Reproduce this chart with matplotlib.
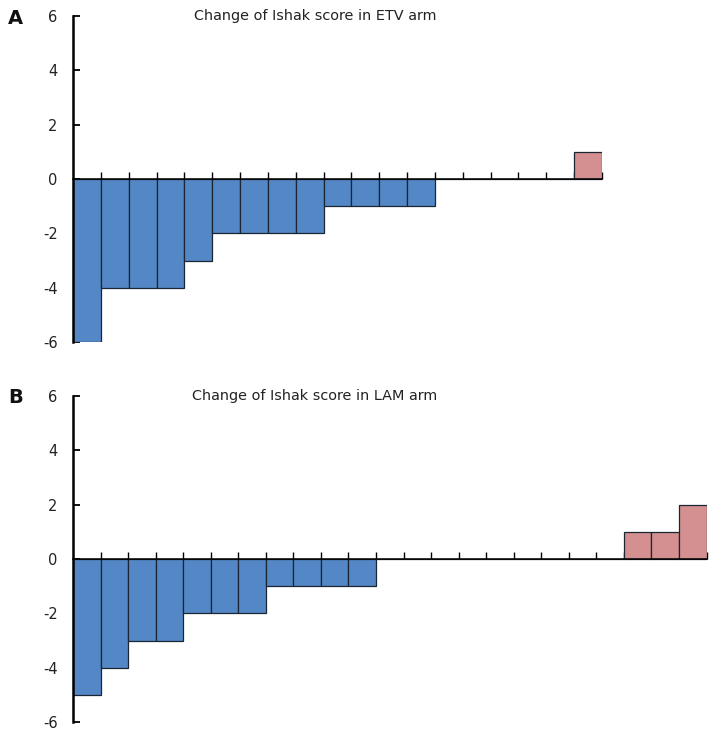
import matplotlib
matplotlib.use("Agg")
import matplotlib.pyplot as plt

# Data
etv_values = [-6, -4, -4, -4, -3, -2, -2, -2, -2, -1, -1, -1, -1, 0, 0, 0, 0, 0, 1]
lam_values = [-5, -4, -3, -3, -2, -2, -2, -1, -1, -1, -1, 0, 0, 0, 0, 0, 0, 0, 0, 0, 1, 1, 2]
titles = ["Change of Ishak score in ETV arm", "Change of Ishak score in LAM arm"]
panel_labels = ["A", "B"]
yticks = [-6, -4, -2, 0, 2, 4, 6]

W, H = 716, 738
fig = plt.figure(figsize=(W / 100, H / 100), dpi=100)

BLUE = "#5487C6"
PINK = "#D49090"
EDGE = "#1c2533"

# axes rectangles in pixel coordinates: left, right, top, bottom
rects = [(73, 602, 16, 342), (73, 706.5, 395.7, 722.3)]
datasets = [etv_values, lam_values]

for i, (vals, (l, r, t, b)) in enumerate(zip(datasets, rects)):
    ax = fig.add_axes([l / W, 1 - b / H, (r - l) / W, (b - t) / H])
    n = len(vals)
    xs = list(range(n))
    colors = [PINK if v > 0 else BLUE for v in vals]
    ax.bar(xs, vals, width=1.0, align="edge", color=colors,
           edgecolor=EDGE, linewidth=0.9, zorder=2)
    ax.set_xlim(0, n)
    ax.set_ylim(-6, 6)
    ax.set_yticks(yticks)
    ax.set_yticklabels([str(v) for v in yticks], fontsize=10.5, color="#222222")
    ax.set_xticks(range(1, n + 1))
    ax.set_xticklabels([])
    for s in ["top", "right"]:
        ax.spines[s].set_visible(False)
    ax.spines["bottom"].set_position(("data", 0))
    ax.spines["bottom"].set_linewidth(1.1)
    ax.spines["bottom"].set_zorder(3)
    ax.spines["left"].set_linewidth(1.8)
    ax.spines["left"].set_zorder(4)
    ax.tick_params(axis="x", direction="in", length=5, width=1.0, color="black")
    ax.tick_params(axis="y", direction="in", length=5, width=1.3, color="black", pad=11)
    ax.patch.set_visible(False)
    cx = 315 / W
    fig.text(cx, 1 - (t) / H, titles[i], ha="center", va="center",
             fontsize=10.4, color="#222222")
    fig.text(8 / W, 1 - (t + 2) / H, panel_labels[i], ha="left", va="center",
             fontsize=14, fontweight="bold", color="#111111")

fig.savefig("out.png", dpi=100)
